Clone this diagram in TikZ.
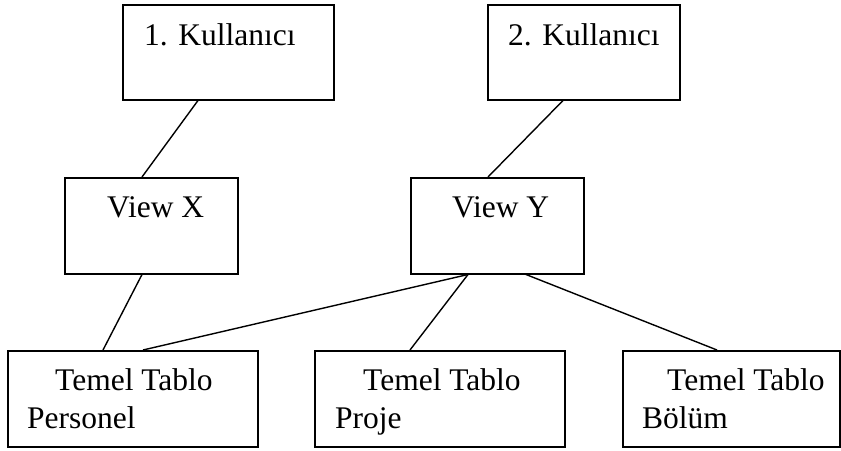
\documentclass[tikz,border=0pt]{standalone}
\usepackage{fontspec}
\setmainfont{Liberation Serif}
\usetikzlibrary{calc}
\tikzset{
  box/.style={draw=black, line width=1.5pt, fill=white, inner sep=0pt, anchor=north west},
  txt/.style={inner sep=0pt, anchor=base west, font=\fontsize{31.5}{36}\selectfont},
  conn/.style={draw=black, line width=1.4pt}
}
\begin{document}
\begin{tikzpicture}[x=1pt,y=-1pt]
\useasboundingbox (0,0) rectangle (841,450);
\fill[white] (0,0) rectangle (841,450);
% boxes
\node[box, minimum width=211pt, minimum height=95pt] (k1) at (122,4) {};
\node[box, minimum width=192pt, minimum height=95pt] (k2) at (487,4) {};
\node[box, minimum width=173pt, minimum height=96pt] (vx) at (64,177) {};
\node[box, minimum width=173pt, minimum height=96pt] (vy) at (410,177) {};
\node[box, minimum width=250pt, minimum height=96pt] (tp) at (7,350) {};
\node[box, minimum width=250pt, minimum height=96pt] (tj) at (314,350) {};
\node[box, minimum width=217pt, minimum height=96pt] (tb) at (622,350) {};
% texts
\node[txt] (k1t) at (144,45) {1. Kullanıcı};
\node[txt] (k2t) at (508,45) {2. Kullanıcı};
\node[txt] (vxt) at (107,217) {View X};
\node[txt] (vyt) at (452,217) {View Y};
\node[txt] (tp1) at (55,390) {Temel Tablo};
\node[txt] (tp2) at (27,428) {Personel};
\node[txt] (tj1) at (363,390) {Temel Tablo};
\node[txt] (tj2) at (335,428) {Proje};
\node[txt] (tb1) at (667,390) {Temel Tablo};
\node[txt] (tb2) at (642,428) {Bölüm};
% connectors
\draw[conn] ($(k1.south west)+(76,0)$) -- ($(vx.north west)+(78,0)$);
\draw[conn] ($(k2.south west)+(76,0)$) -- ($(vy.north west)+(78,0)$);
\draw[conn] ($(vx.south west)+(78,0)$) -- ($(tp.north west)+(96,0)$);
\draw[conn] ($(vy.south west)+(58,0)$) -- ($(tp.north west)+(136,0)$);
\draw[conn] ($(vy.south west)+(58,0)$) -- ($(tj.north west)+(96,0)$);
\draw[conn] ($(vy.south west)+(116,0)$) -- ($(tb.north west)+(95,0)$);
\end{tikzpicture}
\end{document}
